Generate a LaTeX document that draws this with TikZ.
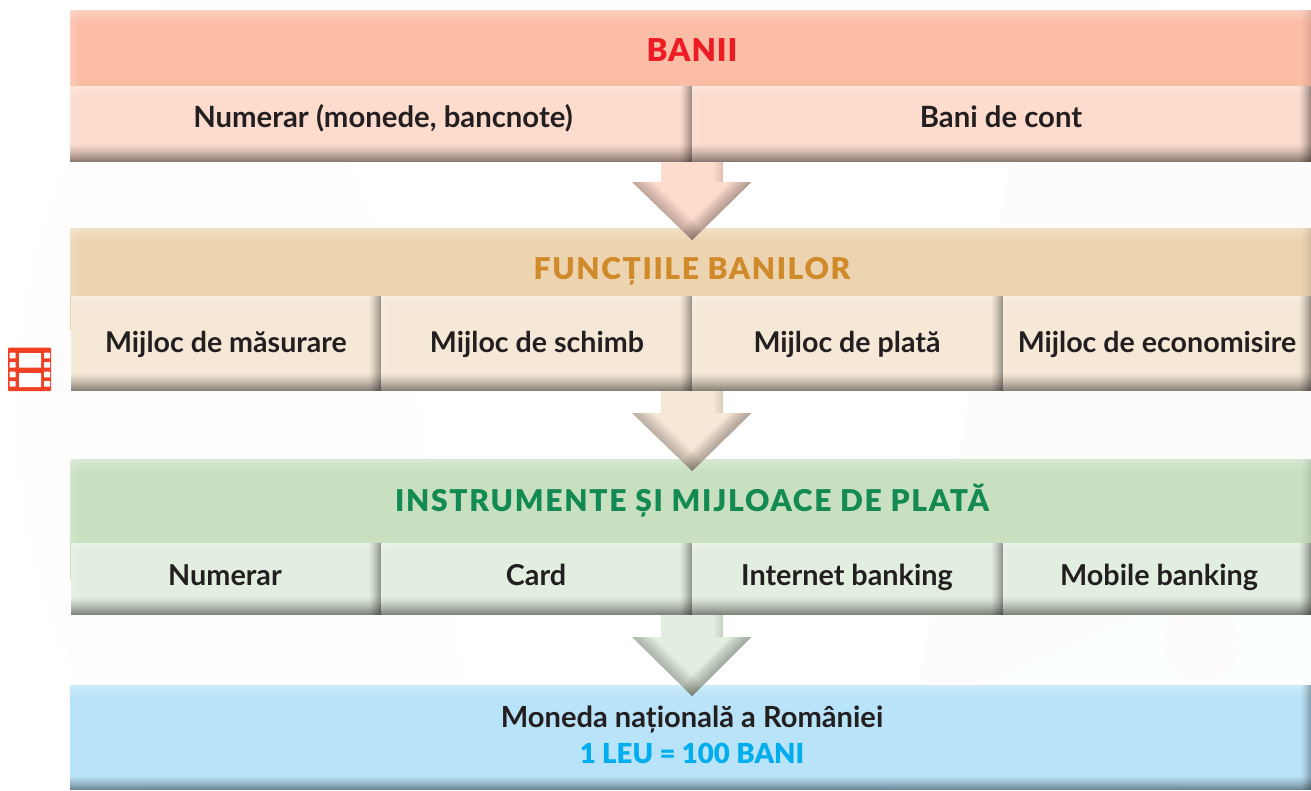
\documentclass[tikz,border=0pt]{standalone}
\usepackage{fontspec}
\setmainfont{Lato}
\newfontfamily\heavyfont{Lato Black}
\usetikzlibrary{calc}
\definecolor{inkc}{HTML}{231F20}
\definecolor{rowAh}{HTML}{FBBDA5}
\definecolor{rowAs}{HTML}{FDDCCE}
\definecolor{rowBh}{HTML}{ECD4B0}
\definecolor{rowBs}{HTML}{F6E8D7}
\definecolor{rowCh}{HTML}{C8E0C0}
\definecolor{rowCs}{HTML}{E2EEDF}
\definecolor{rowDh}{HTML}{B9E3F9}
\definecolor{txtA}{HTML}{ED1C24}
\definecolor{txtB}{HTML}{D08A2A}
\definecolor{txtC}{HTML}{138A52}
\definecolor{txtD}{HTML}{00AEEF}
\definecolor{filmc}{HTML}{F04023}
\definecolor{bgA}{HTML}{FCFDFC}
\definecolor{bgB}{HTML}{FEFCFA}
\definecolor{bgC}{HTML}{FBFFFE}
% gradient strips, drawn as stacked 1pt rectangles inside a path picture
% #1 colour, #2 strength, #3 steps
\newcommand{\topfade}[3]{%
  \foreach \i in {1,...,#3}{%
    \pgfmathsetmacro{\op}{#2*(1-(\i-1)/#3)^1.3}%
    \fill[#1,opacity=\op] ([yshift=-\i pt+1pt]path picture bounding box.north west) rectangle ([yshift=-\i pt]path picture bounding box.north east);
  }%
}
\newcommand{\leftfade}[3]{%
  \foreach \i in {1,...,#3}{%
    \pgfmathsetmacro{\op}{#2*(1-(\i-1)/#3)^1.3}%
    \fill[#1,opacity=\op] ([xshift=\i pt-1pt]path picture bounding box.north west) rectangle ([xshift=\i pt]path picture bounding box.south west);
  }%
}
\newcommand{\rightfade}[3]{%
  \foreach \i in {1,...,#3}{%
    \pgfmathsetmacro{\op}{#2*(1-(\i-1)/#3)^1.3}%
    \fill[#1,opacity=\op] ([xshift=-\i pt+1pt]path picture bounding box.north east) rectangle ([xshift=-\i pt]path picture bounding box.south east);
  }%
}
\newcommand{\bottomfade}[3]{%
  \foreach \i in {1,...,#3}{%
    \pgfmathsetmacro{\op}{#2*(1-(\i-1)/#3)^1.3}%
    \fill[#1,opacity=\op] ([yshift=\i pt-1pt]path picture bounding box.south west) rectangle ([yshift=\i pt]path picture bounding box.south east);
  }%
}
\tikzset{
  headbox/.style={inner sep=0pt,fill=#1,path picture={\leftfade{white}{.2}{10}\topfade{white}{.3}{14}\rightfade{black}{.1}{10}}},
  subbox/.style={inner sep=0pt,fill=#1,path picture={\topfade{white}{.25}{10}\leftfade{white}{.15}{8}\rightfade{black}{.36}{12}\bottomfade{black}{.44}{18}}},
  footbox/.style={inner sep=0pt,fill=#1,path picture={\topfade{white}{.3}{14}\rightfade{black}{.28}{10}\bottomfade{black}{.4}{14}}},
  txtbase/.style={inner sep=0pt,anchor=base,text=inkc},
  plainA/.style={txtbase,font=\fontsize{29.3}{32}\selectfont\bfseries},
  plainB/.style={txtbase,font=\fontsize{28.6}{32}\selectfont\bfseries},
  plainC/.style={txtbase,font=\fontsize{28.8}{32}\selectfont\bfseries},
  titleA/.style={txtbase,text=txtA,font=\fontsize{31.5}{34}\selectfont\heavyfont\addfontfeature{LetterSpace=3}},
  titleB/.style={txtbase,text=txtB,font=\fontsize{30}{32}\selectfont\heavyfont\addfontfeature{LetterSpace=5.4}},
  titleC/.style={txtbase,text=txtC,font=\fontsize{30}{32}\selectfont\heavyfont\addfontfeature{LetterSpace=5.8}},
  footA/.style={txtbase,font=\fontsize{29.1}{32}\selectfont\bfseries},
  footB/.style={txtbase,text=txtD,font=\fontsize{27.6}{32}\selectfont\heavyfont},
}
% #1 name, #2 style, #3 x0, #4 y0, #5 x1, #6 y1
\newcommand{\panelbox}[6]{%
  \pgfmathsetmacro{\pw}{#5-#3}\pgfmathsetmacro{\ph}{#6-#4}%
  \pgfmathsetmacro{\pcx}{(#3+#5)/2}\pgfmathsetmacro{\pcy}{(#4+#6)/2}%
  \node[#2,minimum width=\pw pt,minimum height=\ph pt] (#1) at (\pcx,\pcy) {};%
}
% #1 source node, #2 fill colour, #3 shaft length, #4 total length
\newcommand{\blockarrow}[4]{%
  \coordinate (ba) at (#1.south east);
  \begin{scope}
    \clip (ba)+(-31,0) -- +(31,0) -- +(31,#3) -- +(59,#3) -- +(0,#4) -- +(-60,#3) -- +(-31,#3) -- cycle;
    \fill[#2] (ba)+(-70,-2) rectangle +(70,#4);
    \foreach \lw in {2,4,...,30}{
      \draw[black,line width=\lw pt,opacity=.02] (ba)+(59,#3) -- +(0,#4);
      \draw[black,line width=\lw pt,opacity=.014] (ba)+(-60,#3) -- +(0,#4);
    }
    \foreach \lw in {2,4,...,18}{
      \draw[black,line width=\lw pt,opacity=.012] (ba)+(31,0) -- +(31,#3);
    }
  \end{scope}
}
\begin{document}
\begin{tikzpicture}[x=1pt,y=-1pt]
\useasboundingbox (0,0) rectangle (1311,790);
\fill[white] (0,0) rectangle (1311,790);
% faint backdrop
\begin{scope}
  \clip (0,0) rectangle (1311,790);
  \fill[bgA] (660,410) circle[radius=642];
  \fill[bgB] (960,160) -- (1311,160) -- (1311,790) -- (890,790) -- cycle;
  \fill[white] (350,165) -- (400,300) -- (480,790) -- (900,790) -- (1010,165) -- cycle;
  \fill[bgC] (1140,615) -- (1311,615) -- (1311,685) -- (980,685) -- cycle;
  \fill[bgB] (1201,643) circle[radius=38];
\end{scope}
% row 1
\panelbox{hA}{headbox=rowAh}{70}{10}{1311}{86}
\panelbox{sA1}{subbox=rowAs}{70}{86}{692}{162}
\panelbox{sA2}{subbox=rowAs}{692}{86}{1311}{162}
\node[titleA] (tA) at (692,61) {BANII};
\node[plainA] (tA1) at (383,127) {Numerar (monede, bancnote)};
\node[plainA] (tA2) at (1001,127) {Bani de cont};
% row 2
\panelbox{hB}{headbox=rowBh}{70}{228}{1311}{296}
\fill[rowBh] (70,296) rectangle (71,331);
\panelbox{sB1}{subbox=rowBs}{71}{296}{381}{391}
\panelbox{sB2}{subbox=rowBs}{381}{296}{692}{391}
\panelbox{sB3}{subbox=rowBs}{692}{296}{1003}{391}
\panelbox{sB4}{subbox=rowBs}{1003}{296}{1311}{391}
\node[titleB] (tB) at (692,279) {FUNCȚIILE BANILOR};
\node[plainB] (tB1) at (226,352) {Mijloc de măsurare};
\node[plainB] (tB2) at (537,352) {Mijloc de schimb};
\node[plainB] (tB3) at (847,352) {Mijloc de plată};
\node[plainB] (tB4) at (1157,352) {Mijloc de economisire};
% row 3
\panelbox{hC}{headbox=rowCh}{70}{459}{1311}{543}
\fill[rowCh] (70,543) rectangle (71,580);
\panelbox{sC1}{subbox=rowCs}{71}{543}{381}{615}
\panelbox{sC2}{subbox=rowCs}{381}{543}{692}{615}
\panelbox{sC3}{subbox=rowCs}{692}{543}{1003}{615}
\panelbox{sC4}{subbox=rowCs}{1003}{543}{1311}{615}
\node[titleC] (tC) at (692,511) {INSTRUMENTE ȘI MIJLOACE DE PLATĂ};
\node[plainC] (tC1) at (225,585) {Numerar};
\node[plainC] (tC2) at (536,585) {Card};
\node[plainC] (tC3) at (847,585) {Internet banking};
\node[plainC] (tC4) at (1159,585) {Mobile banking};
% row 4
\panelbox{hD}{footbox=rowDh}{70}{685}{1311}{790}
\node[footA] (tD1) at (692,727) {Moneda națională a României};
\node[footB] (tD2) at (692,763) {1 LEU = 100 BANI};
% arrows
\blockarrow{sA1}{rowAs}{20}{78}
\blockarrow{sB2}{rowBs}{22}{80}
\blockarrow{sC2}{rowCs}{22}{81}
% film icon
\fill[filmc,rounded corners=1pt] (8,347.5) rectangle (51,391);
\fill[white] (19,353) rectangle (41,367.5) (19,373) rectangle (41,387);
\foreach \xa in {9.5,44}{
  \foreach \ya in {352.7,362,371.7,381}{
    \fill[white,rounded corners=.6pt] (\xa,\ya) rectangle (\xa+6,\ya+5.7);
  }
}
\end{tikzpicture}
\end{document}
